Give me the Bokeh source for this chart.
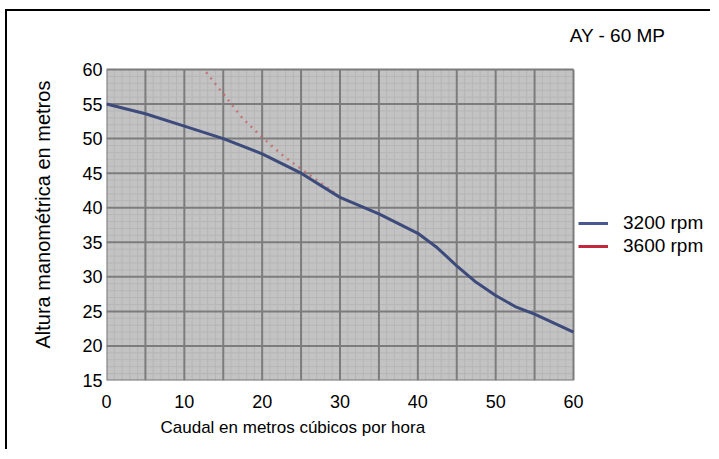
from bokeh.plotting import figure
from bokeh.models import (Range1d, FixedTicker, Legend, LegendItem, Title, Label)
from bokeh.embed import file_html
from bokeh.resources import INLINE

# ---- data ----
caudal_3200 = [0, 5, 10, 15, 20, 25, 30, 35, 40, 42.5, 45, 47.5, 50, 52.5, 55, 60]
altura_3200 = [55, 53.6, 51.8, 50, 47.8, 45, 41.5, 39.1, 36.3, 34.2, 31.6, 29.2, 27.3, 25.7, 24.6, 22]

caudal_3600 = [12.8, 15, 17.5, 20, 22.5, 25, 27.5, 30]
altura_3600 = [59.6, 56.5, 52.9, 50.2, 47.7, 45.6, 43.6, 41.6]

x_ticks = [0, 10, 20, 30, 40, 50, 60]
y_ticks = [15, 20, 25, 30, 35, 40, 45, 50, 55, 60]
grid_x = list(range(0, 61, 5))
grid_y = list(range(15, 61, 5))
minor_x = [v for v in range(0, 61) if v % 5]
minor_y = [v for v in range(15, 61) if v % 5]
series_names = ["3200 rpm", "3600 rpm"]
title_text = "AY - 60 MP"
x_label = "Caudal en metros cúbicos por hora"
y_label = "Altura manométrica en metros"

FONT = "Liberation Sans"
NAN = float("nan")

x0, x1 = x_ticks[0], x_ticks[-1]
y0, y1 = y_ticks[0], y_ticks[-1]

# the frame covers the whole canvas to the right and top so that the legend and the
# title, which lie outside the grey area, are not clipped
W, H = 705, 440
LEFT, RIGHT, TOP, BOTTOM = 99, 0, 0, 71
plot_w_px, plot_h_px = 467.0, 311.0   # size of the grey 0..60 x 15..60 area
frame_w = W - LEFT - RIGHT
frame_h = H - TOP - BOTTOM
x_end = x0 + (x1 - x0) * frame_w / plot_w_px
y_end = y0 + (y1 - y0) * frame_h / plot_h_px

p = figure(width=W, height=H, output_backend="svg", toolbar_location=None,
           x_range=Range1d(x0, x_end), y_range=Range1d(y0, y_end),
           min_border_left=LEFT, min_border_right=RIGHT, min_border_top=TOP,
           min_border_bottom=BOTTOM,
           background_fill_color="white", border_fill_color="white")
p.styles = {"border-left": "2px solid black", "border-top": "2px solid black",
            "margin-left": "5px", "margin-top": "9px"}
p.outline_line_color = None
p.xgrid.visible = False
p.ygrid.visible = False

# grey plotting area and its grid
p.quad(left=[x0], right=[x1], bottom=[y0], top=[y1], fill_color="#c3c3c3", line_color=None)
p.segment(x0=minor_x, y0=[y0] * len(minor_x), x1=minor_x, y1=[y1] * len(minor_x),
          line_color="#b6b6b6", line_width=1)
p.segment(x0=[x0] * len(minor_y), y0=minor_y, x1=[x1] * len(minor_y), y1=minor_y,
          line_color="#b6b6b6", line_width=1)
p.segment(x0=grid_x, y0=[y0] * len(grid_x), x1=grid_x, y1=[y1] * len(grid_x),
          line_color="#7c7c7c", line_width=2)
p.segment(x0=[x0] * len(grid_y), y0=grid_y, x1=[x1] * len(grid_y), y1=grid_y,
          line_color="#7c7c7c", line_width=2)

p.xaxis.ticker = FixedTicker(ticks=x_ticks)
p.yaxis.ticker = FixedTicker(ticks=y_ticks)
for ax in (p.xaxis, p.yaxis):
    ax.axis_line_color = None
    ax.major_tick_line_color = None
    ax.minor_tick_line_color = None
    ax.major_label_text_font = FONT
    ax.major_label_text_font_size = "18px"
    ax.major_label_text_color = "black"
p.xaxis.major_label_standoff = 8
p.yaxis.major_tick_out = 0
p.yaxis.minor_tick_out = 0
p.yaxis.major_label_standoff = 4

# axis titles
p.add_layout(Title(text=x_label, align="left", offset=54, text_font=FONT,
                   text_font_size="17px", text_font_style="normal",
                   text_color="black"), "below")
p.add_layout(Title(text=y_label, align="left", offset=32, vertical_align="top",
                   standoff=48, text_font=FONT, text_font_size="20px",
                   text_font_style="normal", text_color="black"), "left")

# chart title (top right)
p.add_layout(Label(x=511, y=345, x_units="screen", y_units="screen", text=title_text,
                   text_font=FONT, text_font_size="19px", text_align="center",
                   text_baseline="middle", text_color="black"))

r2 = p.line(caudal_3600, altura_3600, line_color="#c86464", line_width=2.5,
            line_dash="2 5", line_alpha=0.8)
r1 = p.line(caudal_3200, altura_3200, line_color="#3d4a7c", line_width=3)

# legend swatches (solid red for 3600); a single NaN point keeps them off the plot
r2_leg = p.line([NAN], [NAN], line_color="#c4283e", line_width=3)
r1_leg = p.line([NAN], [NAN], line_color="#4a5890", line_width=3)

legend = Legend(items=[LegendItem(label=series_names[0], renderers=[r1_leg]),
                       LegendItem(label=series_names[1], renderers=[r2_leg])],
                location=(472, 123), margin=0, padding=0, spacing=1,
                glyph_width=30, glyph_height=20, label_height=20,
                label_standoff=15, label_text_font=FONT, label_text_font_size="19px",
                label_text_color="black",
                background_fill_alpha=0, border_line_color=None)
p.add_layout(legend)

open("out.html", "w").write(file_html(p, INLINE))
